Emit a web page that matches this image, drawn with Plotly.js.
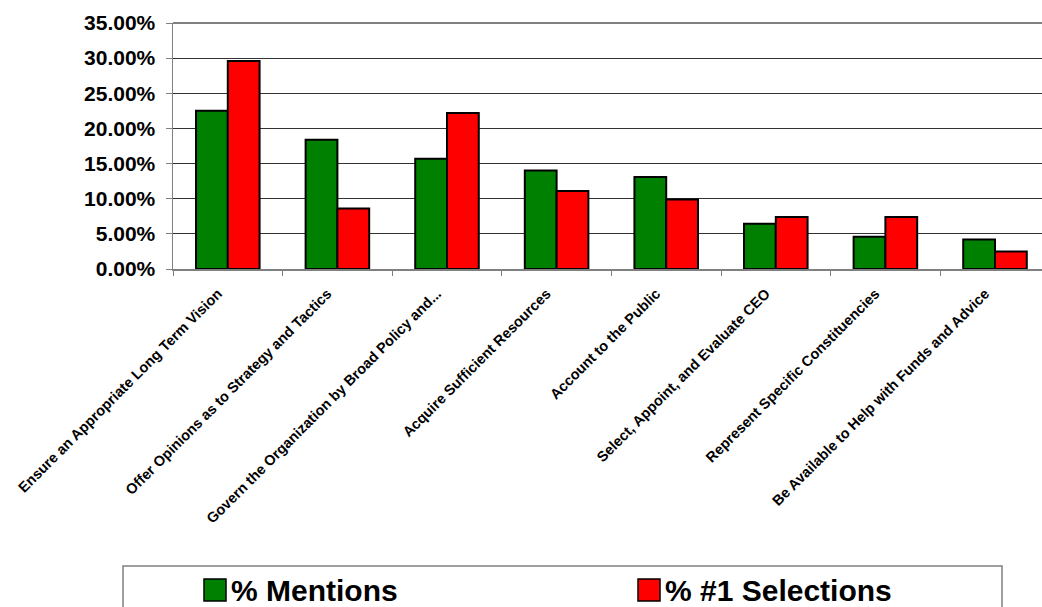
<!DOCTYPE html>
<html>
<head>
<meta charset="utf-8">
<script src="https://cdn.plot.ly/plotly-3.0.1.min.js"></script>
<style>
html,body{margin:0;padding:0;background:#fff;overflow:hidden;}
#chart{width:1042px;height:607px;}
</style>
</head>
<body>
<div id="chart"></div>
<script>
// Data
const categories = [
  "Ensure an Appropriate Long Term Vision",
  "Offer Opinions as to Strategy and Tactics",
  "Govern the Organization by Broad Policy and...",
  "Acquire Sufficient Resources",
  "Account to the Public",
  "Select, Appoint, and Evaluate CEO",
  "Represent Specific Constituencies",
  "Be Available to Help with Funds and Advice"
];
const seriesNames = ["% Mentions", "% #1 Selections"];
const mentions = [22.5, 18.4, 15.7, 14.0, 13.1, 6.45, 4.6, 4.2];
const firstSelections = [29.6, 8.6, 22.2, 11.1, 9.9, 7.4, 7.4, 2.5];
const yTickValues = [0, 5, 10, 15, 20, 25, 30, 35];
const yTickLabels = ["0.00%", "5.00%", "10.00%", "15.00%", "20.00%", "25.00%", "30.00%", "35.00%"];

const colors = ["#008000", "#FF0000"];
const FONT = "Arial, 'Liberation Sans', sans-serif";

const traces = [
  {type: "bar", name: seriesNames[0], x: categories, y: mentions,
   marker: {color: colors[0], line: {color: "#000", width: 2}}, showlegend: false, hoverinfo: "skip"},
  {type: "bar", name: seriesNames[1], x: categories, y: firstSelections,
   marker: {color: colors[1], line: {color: "#000", width: 2}}, showlegend: false, hoverinfo: "skip"}
];

// plot area: x 173..1042, y 23..269
const L = 173, R = 1042, T = 23, B = 269;
const px = v => (v - L) / (R - L);
const py = v => (B - v) / (B - T);

const layout = {
  width: 1042, height: 607,
  margin: {l: L, r: 1042 - R, t: T, b: 607 - B, pad: 0},
  paper_bgcolor: "#fff", plot_bgcolor: "#fff",
  barmode: "group", bargap: 0.42, bargroupgap: 0,
  font: {family: FONT, color: "#000"},
  xaxis: {
    type: "category",
    range: [-0.5, -0.5 + (R - L) / 109.6],
    tickangle: -45,
    tickfont: {family: FONT, size: 14.5, weight: "bold", color: "#000"},
    ticks: "outside", ticklen: 5, tickcolor: "#808080", tickwidth: 1,
    tickson: "boundaries",
    ticklabelstandoff: 9, ticklabelshift: -10,
    showline: true, linecolor: "#808080", linewidth: 1.5,
    showgrid: false, zeroline: false, automargin: false
  },
  yaxis: {
    range: [0, 35],
    tickmode: "array",
    tickvals: yTickValues,
    ticktext: yTickLabels,
    tickfont: {family: FONT, size: 21, weight: "bold", color: "#000"},
    ticks: "outside", ticklen: 6, tickcolor: "#808080", tickwidth: 1,
    ticklabelstandoff: 6,
    showline: true, linecolor: "#808080", linewidth: 1.5,
    showgrid: true, gridcolor: "#333", gridwidth: 1,
    zeroline: false, automargin: false
  },
  shapes: [
    {type: "line", xref: "paper", yref: "paper", x0: 0, x1: 1, y0: 1, y1: 1,
     line: {color: "#808080", width: 2}},
    // legend box
    {type: "rect", xref: "paper", yref: "paper", x0: px(123), x1: px(1002), y0: py(566), y1: py(612),
     line: {color: "#808080", width: 1.5}, fillcolor: "rgba(0,0,0,0)"},
    {type: "rect", xref: "paper", yref: "paper", x0: px(204), x1: px(226), y0: py(579), y1: py(601),
     line: {color: "#000", width: 1.5}, fillcolor: colors[0]},
    {type: "rect", xref: "paper", yref: "paper", x0: px(638), x1: px(660), y0: py(579), y1: py(601),
     line: {color: "#000", width: 1.5}, fillcolor: colors[1]}
  ],
  annotations: [
    {xref: "paper", yref: "paper", x: px(229), y: py(590), xanchor: "left", yanchor: "middle",
     text: seriesNames[0], showarrow: false, font: {family: FONT, size: 30, weight: "bold", color: "#000"}},
    {xref: "paper", yref: "paper", x: px(663), y: py(590), xanchor: "left", yanchor: "middle",
     text: seriesNames[1], showarrow: false, font: {family: FONT, size: 30, weight: "bold", color: "#000"}}
  ]
};

Plotly.newPlot("chart", traces, layout, {displayModeBar: false, staticPlot: true});
</script>
</body>
</html>
